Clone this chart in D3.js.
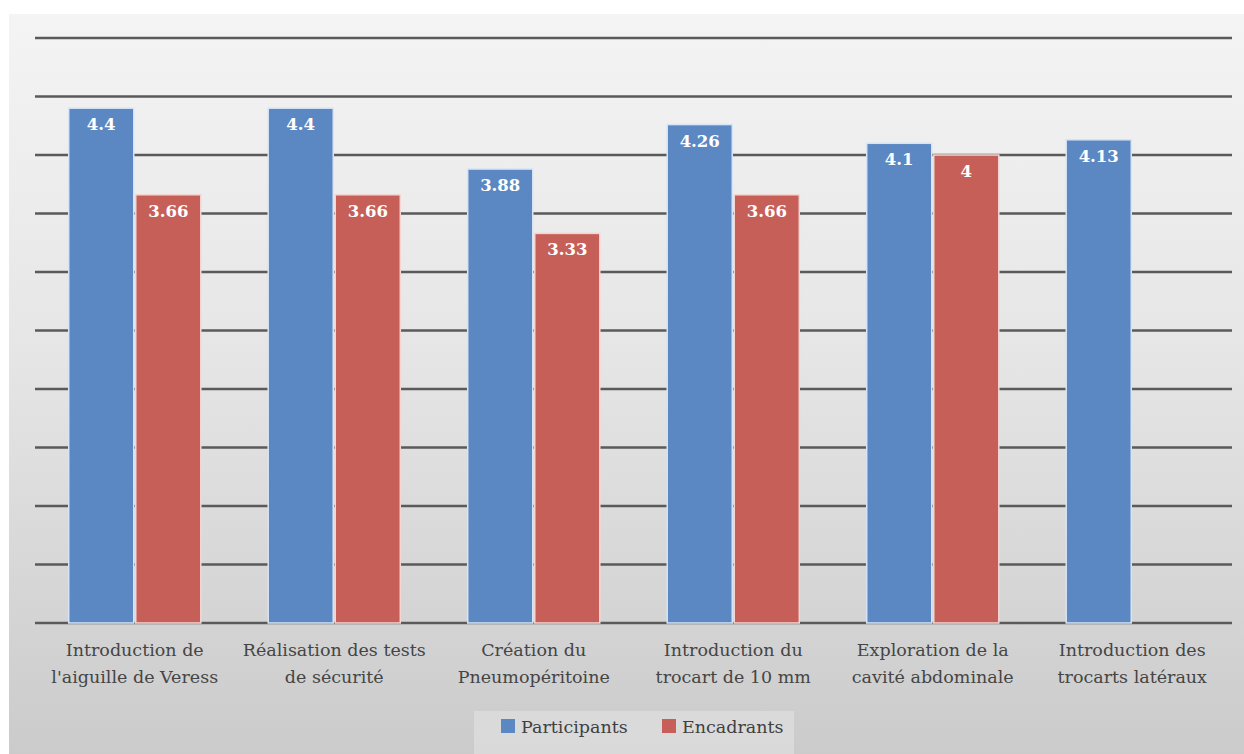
<!DOCTYPE html>
<html>
<head>
<meta charset="utf-8">
<script src="https://cdn.jsdelivr.net/npm/d3@7"></script>
<style>
  body { margin: 0; background: #fff; }
  svg { display: block; }
  .cat { font-family: "DejaVu Serif", serif; font-size: 17.5px; fill: #454545; }
  .val { font-family: "DejaVu Serif", serif; font-size: 16.5px; font-weight: bold; fill: #fff; }
  .leg { font-family: "DejaVu Serif", serif; font-size: 17.5px; fill: #404040; }
</style>
</head>
<body>
<div id="chart"></div>
<script>
// data
var categories = [
  ["Introduction de", "l'aiguille de Veress"],
  ["Réalisation des tests", "de sécurité"],
  ["Création du", "Pneumopéritoine"],
  ["Introduction du", "trocart de 10 mm"],
  ["Exploration de la", "cavité abdominale"],
  ["Introduction des", "trocarts latéraux"]
];
var seriesNames = ["Participants", "Encadrants"];
var participants = [4.4, 4.4, 3.88, 4.26, 4.1, 4.13];
var encadrants = [3.66, 3.66, 3.33, 3.66, 4, null];
var labelsParticipants = ["4.4", "4.4", "3.88", "4.26", "4.1", "4.13"];
var labelsEncadrants = ["3.66", "3.66", "3.33", "3.66", "4", ""];
var gridTicks = [0, 0.5, 1, 1.5, 2, 2.5, 3, 3.5, 4, 4.5, 5];

var colors = { Participants: "#5b88c3", Encadrants: "#c75f59" };
var glow = { Participants: "#d6e4f5", Encadrants: "#f3d6d4" };

var W = 1244, H = 754;
var svg = d3.select("#chart").append("svg").attr("width", W).attr("height", H);

var defs = svg.append("defs");
var grad = defs.append("linearGradient").attr("id", "bg").attr("x1", 0).attr("y1", 0).attr("x2", 0).attr("y2", 1);
grad.append("stop").attr("offset", "0%").attr("stop-color", "#f4f4f4");
grad.append("stop").attr("offset", "45%").attr("stop-color", "#e6e6e6");
grad.append("stop").attr("offset", "100%").attr("stop-color", "#cbcbcb");

svg.append("rect").attr("x", 9).attr("y", 14).attr("width", W - 9).attr("height", H - 14)
  .attr("fill", "url(#bg)");

var x = d3.scaleBand().domain(d3.range(categories.length)).range([35, 1232])
  .paddingInner(0.338).paddingOuter(0.169);
var xs = d3.scaleBand().domain(seriesNames).range([0, x.bandwidth()]).paddingInner(0.03);
var y = d3.scaleLinear().domain([0, 5]).range([623, 38]);

// gridlines
svg.append("g").selectAll("line").data(gridTicks).enter().append("line")
  .attr("x1", 35).attr("x2", 1232)
  .attr("y1", function(d) { return y(d); }).attr("y2", function(d) { return y(d); })
  .attr("stroke", "#5a5a5a").attr("stroke-width", 2.5);

var rows = [];
categories.forEach(function(c, i) {
  rows.push({ i: i, s: "Participants", v: participants[i], label: labelsParticipants[i] });
  if (encadrants[i] != null) rows.push({ i: i, s: "Encadrants", v: encadrants[i], label: labelsEncadrants[i] });
});

svg.append("g").selectAll("rect").data(rows).enter().append("rect")
  .attr("x", function(d) { return x(d.i) + xs(d.s); })
  .attr("y", function(d) { return y(d.v); })
  .attr("width", xs.bandwidth())
  .attr("height", function(d) { return y(0) - y(d.v); })
  .attr("fill", function(d) { return colors[d.s]; })
  .attr("stroke", function(d) { return glow[d.s]; })
  .attr("stroke-width", 1.5);

svg.append("g").selectAll("text").data(rows).enter().append("text")
  .attr("class", "val")
  .attr("x", function(d) { return x(d.i) + xs(d.s) + xs.bandwidth() / 2; })
  .attr("y", function(d) { return y(d.v) + 22; })
  .attr("text-anchor", "middle")
  .text(function(d) { return d.label; });

// category labels
var cat = svg.append("g").selectAll("text").data(categories).enter().append("text")
  .attr("class", "cat")
  .attr("text-anchor", "middle")
  .attr("x", function(d, i) { return x(i) + x.bandwidth() / 2; })
  .attr("y", 656);
cat.selectAll("tspan").data(function(d) { return d; }).enter().append("tspan")
  .attr("x", function() { return d3.select(this.parentNode).attr("x"); })
  .attr("dy", function(d, j) { return j === 0 ? 0 : 27; })
  .text(function(d) { return d; });

// legend
var leg = svg.append("g");
leg.append("rect").attr("x", 474).attr("y", 711).attr("width", 320).attr("height", 43)
  .attr("fill", "#e2e2e2").attr("opacity", 0.6);
var legX = [501, 662];
seriesNames.forEach(function(s, k) {
  leg.append("rect").attr("x", legX[k]).attr("y", 719).attr("width", 14).attr("height", 14)
    .attr("fill", colors[s]);
  leg.append("text").attr("class", "leg").attr("x", legX[k] + 20).attr("y", 733).text(s);
});
</script>
</body>
</html>
